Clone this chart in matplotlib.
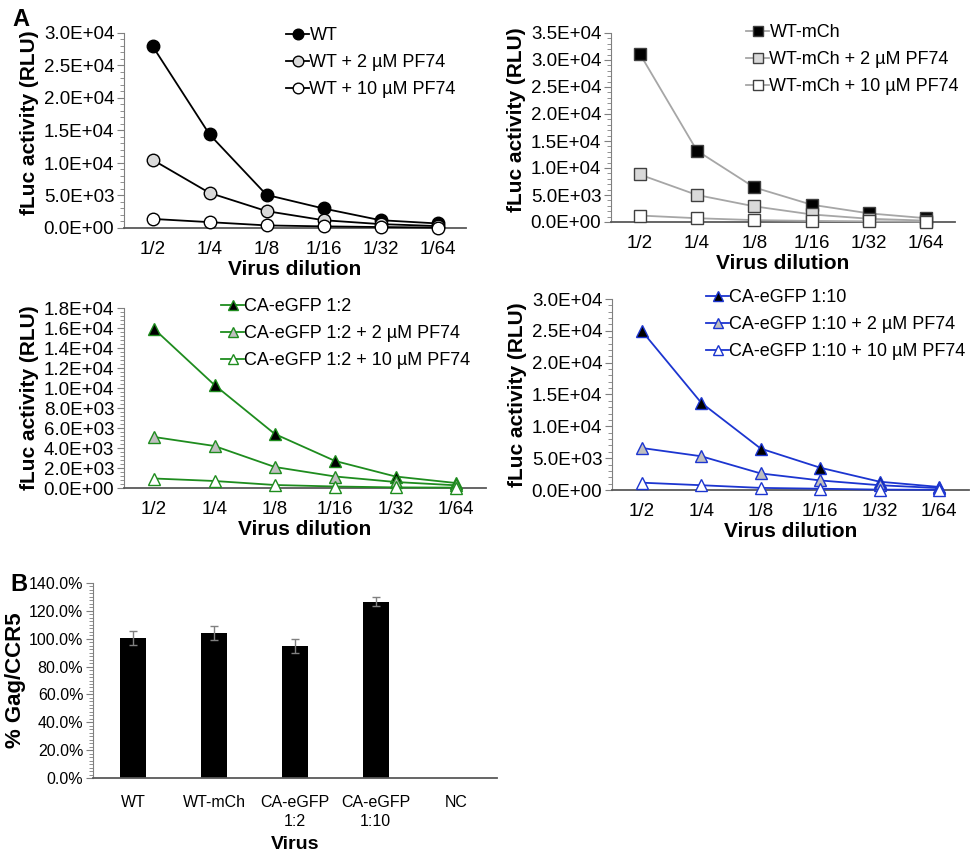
import numpy as np
import matplotlib
matplotlib.use("Agg")
from matplotlib import pyplot as plt
from matplotlib.ticker import AutoMinorLocator, FuncFormatter, MultipleLocator

plt.rcParams['font.family'] = ['Liberation Sans', 'DejaVu Sans']

dilutions = ['1/2', '1/4', '1/8', '1/16', '1/32', '1/64']

wt = [28000, 14400, 5100, 3000, 1200, 700]
wt_pf2 = [10500, 5400, 2600, 1200, 600, 300]
wt_pf10 = [1400, 900, 400, 250, 150, 60]

mch = [31200, 13200, 6400, 3200, 1600, 700]
mch_pf2 = [8800, 5000, 2900, 1400, 600, 250]
mch_pf10 = [1200, 700, 350, 200, 120, 60]

gfp2 = [15900, 10300, 5400, 2700, 1150, 500]
gfp2_pf2 = [5100, 4200, 2100, 1150, 600, 270]
gfp2_pf10 = [950, 700, 300, 150, 60, 40]

gfp10 = [25000, 13700, 6500, 3500, 1300, 480]
gfp10_pf2 = [6600, 5300, 2600, 1500, 750, 300]
gfp10_pf10 = [1150, 750, 330, 200, 60, 30]

viruses = ['WT', 'WT-mCh', 'CA-eGFP\n1:2', 'CA-eGFP\n1:10', 'NC']
gag_pct = [100.5, 104.0, 95.0, 126.5, 0.3]
gag_err = [5.0, 5.0, 5.0, 3.3, 0.0]

W, H = 971, 855
fig = plt.figure(figsize=(W / 100, H / 100), dpi=100)


def px_axes(x0, y0, x1, y1):
    return fig.add_axes([x0 / W, 1 - y1 / H, (x1 - x0) / W, (y1 - y0) / H])


def sci(v, pos):
    if v == 0:
        return '0.0E+00'
    e = int(np.floor(np.log10(abs(v))))
    return '%.1fE+%02d' % (v / 10 ** e, e)


def style_axes(ax, ymax, ystep, nminor, tsize):
    ax.set_ylim(0, ymax)
    ax.yaxis.set_major_locator(MultipleLocator(ystep))
    ax.yaxis.set_minor_locator(AutoMinorLocator(nminor))
    for s in ['top', 'right']:
        ax.spines[s].set_visible(False)
    ax.spines['left'].set_color('#7f7f7f')
    ax.spines['bottom'].set_color('#595959')
    ax.spines['bottom'].set_linewidth(1.3)
    ax.tick_params(axis='y', which='major', length=5, color='#7f7f7f', labelsize=tsize, pad=2)
    ax.tick_params(axis='y', which='minor', length=3, color='#7f7f7f')
    ax.tick_params(axis='x', length=0, labelsize=tsize, pad=9)


def line_panel(ax, series, labels, line_color, marker, faces, edge, ymax, ystep, leg_xy, ylab_y):
    x = np.arange(len(dilutions))
    ms = {'o': 9, 's': 8, '^': 8}[marker]
    for ys, lab, fc in zip(series, labels, faces):
        ax.plot(x, ys, '-', color=line_color, lw=1.3, marker=marker, ms=ms,
                mfc=fc, mec=edge, mew=1.0, label=lab, clip_on=False, zorder=3)
    ax.set_xlim(-0.5, len(dilutions) - 0.5)
    ax.set_xticks(x)
    ax.set_xticklabels(dilutions)
    style_axes(ax, ymax, ystep, 5, 13.5)
    ax.yaxis.set_major_formatter(FuncFormatter(sci))
    ax.set_xlabel('Virus dilution', fontsize=15, fontweight='bold', labelpad=2)
    ax.set_ylabel('fLuc activity (RLU)', fontsize=15, fontweight='bold', labelpad=3)
    ax.yaxis.label.set_y(ylab_y)
    ax.legend(loc='upper left', bbox_to_anchor=(leg_xy[0] / W, 1 - leg_xy[1] / H),
              bbox_transform=fig.transFigure, frameon=False, fontsize=13,
              handlelength=1.3, handletextpad=0.0, labelspacing=0.55, borderpad=0,
              borderaxespad=0, markerscale=0.85)


ax1 = px_axes(124, 33, 466, 228)
line_panel(ax1, [wt, wt_pf2, wt_pf10], ['WT', 'WT + 2 µM PF74', 'WT + 10 µM PF74'],
           'black', 'o', ['black', '#d9d9d9', 'white'], 'black', 30000, 5000, (286, 27), 0.54)

ax2 = px_axes(611, 33, 955, 222)
line_panel(ax2, [mch, mch_pf2, mch_pf10], ['WT-mCh', 'WT-mCh + 2 µM PF74', 'WT-mCh + 10 µM PF74'],
           '#a6a6a6', 's', ['black', '#d9d9d9', 'white'], '#404040', 35000, 5000, (746, 24), 0.54)

green = '#1e8c1e'
ax3 = px_axes(124, 308, 486, 488)
line_panel(ax3, [gfp2, gfp2_pf2, gfp2_pf10],
           ['CA-eGFP 1:2', 'CA-eGFP 1:2 + 2 µM PF74', 'CA-eGFP 1:2 + 10 µM PF74'],
           green, '^', ['black', '#bfbfbf', 'white'], green, 18000, 2000, (221, 298), 0.5)

blue = '#1c35d0'
ax4 = px_axes(612, 299, 969, 490)
line_panel(ax4, [gfp10, gfp10_pf2, gfp10_pf10],
           ['CA-eGFP 1:10', 'CA-eGFP 1:10 + 2 µM PF74', 'CA-eGFP 1:10 + 10 µM PF74'],
           blue, '^', ['black', '#bfbfbf', 'white'], blue, 30000, 5000, (706, 289), 0.5)

# panel B
axb = px_axes(93, 583, 497, 778)
xb = np.arange(len(viruses))
axb.bar(xb, gag_pct, width=0.32, color=['black'] * 4 + ['#7f7f7f'], zorder=2)
axb.errorbar(xb[:4], gag_pct[:4], yerr=gag_err[:4], fmt='none', ecolor='#808080',
             elinewidth=1.0, capsize=3, capthick=1.0, zorder=3)
axb.set_xlim(-0.5, len(viruses) - 0.5)
axb.set_xticks(xb)
style_axes(axb, 140, 20, 8, 11.5)
axb.set_xticklabels(viruses, linespacing=1.4, fontsize=11.5)
axb.yaxis.set_major_formatter(FuncFormatter(lambda v, p: '%.1f%%' % v))
axb.set_xlabel('Virus', fontsize=14, fontweight='bold', labelpad=5)
axb.set_ylabel('% Gag/CCR5', fontsize=16, fontweight='bold', labelpad=2)
axb.tick_params(axis='x', pad=12)

fig.text(12 / W, 1 - 19 / H, 'A', fontsize=17, fontweight='bold', va='center', ha='left')
fig.text(10 / W, 1 - 584 / H, 'B', fontsize=17, fontweight='bold', va='center', ha='left')

fig.savefig('out.png', dpi=100)
